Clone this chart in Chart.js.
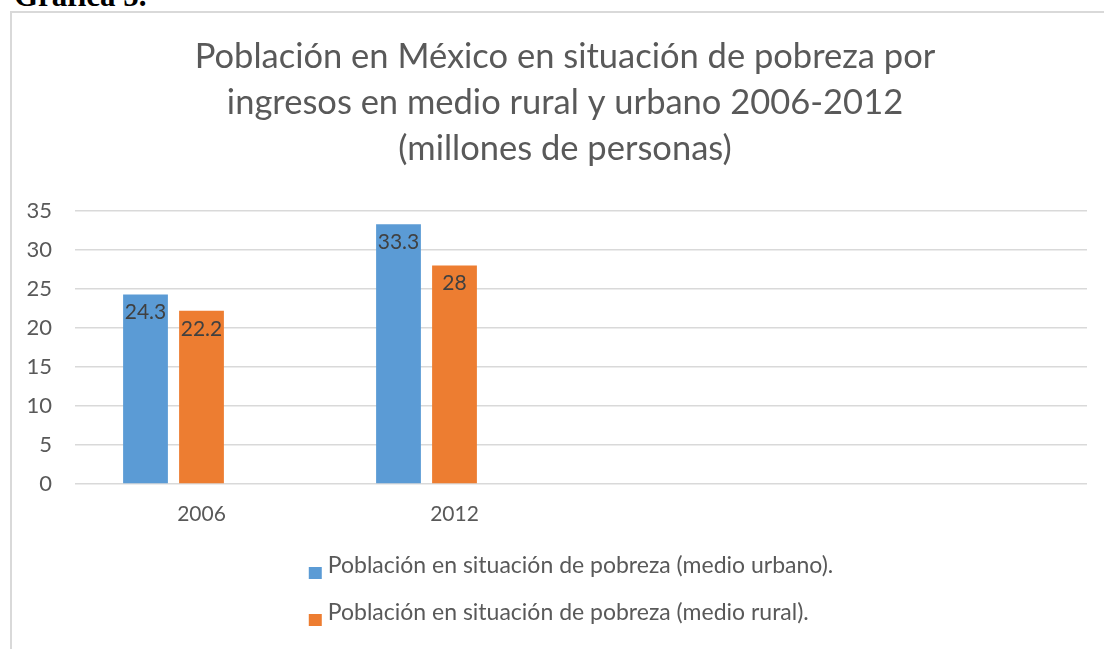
<!DOCTYPE html>
<html>
<head>
<meta charset="utf-8">
<script src="https://cdn.jsdelivr.net/npm/chart.js@4.4.1/dist/chart.umd.min.js"></script>
<style>
  html, body { margin: 0; padding: 0; background: #fff; overflow: hidden; width: 1104px; height: 649px; }
  #caption { position: absolute; left: 14px; top: -20px; font: bold 31px "Liberation Serif", serif; line-height: 31px; color: #000; white-space: nowrap; }
  #frame { position: absolute; left: 10px; top: 11px; width: 1200px; height: 700px; border-left: 2px solid #d9d9d9; border-top: 2px solid #d9d9d9; }
  #myChart { position: absolute; left: 12px; top: 13px; }
</style>
</head>
<body>
<div id="caption">Gráfica 5.</div>
<div id="frame"></div>
<canvas id="myChart" width="1106" height="636"></canvas>
<script>
const years = ['2006', '2012', '', '']
const urbano = [24.3, 33.3, null, null]
const rural = [22.2, 28, null, null]
const sinDatos = [null, null, null, null]   // third (empty) series in the original sheet
const yTicks = [0, 5, 10, 15, 20, 25, 30, 35]

const titleLines = [
	'Población en México en situación de pobreza por',
	'ingresos en medio rural y urbano 2006-2012',
	'(millones de personas)'
]
const seriesNames = [
	'Población en situación de pobreza (medio urbano).',
	'Población en situación de pobreza (medio rural).'
]

const grey = '#595959'
const FONT = 'Lato, "Open Sans", sans-serif'

// value written inside the top of each bar
const valueLabels = {
	id: 'valueLabels',
	afterDatasetsDraw(chart) {
		const ctx = chart.ctx
		ctx.save()
		ctx.font = '21px ' + FONT
		ctx.fillStyle = '#404040'
		ctx.textAlign = 'center'
		ctx.textBaseline = 'middle'
		chart.data.datasets.forEach((ds, i) => {
			chart.getDatasetMeta(i).data.forEach((bar, j) => {
				const v = ds.data[j]
				if (v == null) return
				ctx.fillText(String(v), bar.x, bar.y + 18)
			})
		})
		ctx.restore()
	}
}

// excel style legend: one entry per row, under the axis
const stackedLegend = {
	id: 'stackedLegend',
	afterDraw(chart) {
		const ctx = chart.ctx
		const items = chart.data.datasets.filter(ds => ds.label)
		ctx.save()
		ctx.font = '23px ' + FONT
		ctx.textBaseline = 'alphabetic'
		const textW = Math.max(...items.map(ds => ctx.measureText(ds.label).width))
		const blockW = 13 + 6 + textW
		const x0 = chart.width / 2 - blockW / 2 + 6
		items.forEach((ds, i) => {
			const base = chart.chartArea.bottom + 89 + i * 47
			ctx.fillStyle = ds.backgroundColor
			ctx.fillRect(x0, base - 6, 13, 12)
			ctx.fillStyle = grey
			ctx.fillText(ds.label, x0 + 19, base)
		})
		ctx.restore()
	}
}

const ctx = document.getElementById('myChart').getContext('2d')

const myChart = new Chart(ctx, {
	type: 'bar',
	data: {
		labels: years,
		datasets: [
			{ label: seriesNames[0], data: urbano, backgroundColor: '#5b9bd5' },
			{ label: seriesNames[1], data: rural, backgroundColor: '#ed7d31' },
			{ label: '', data: sinDatos, backgroundColor: '#a5a5a5' }
		]
	},
	options: {
		responsive: false,
		animation: false,
		barPercentage: 0.8,
		categoryPercentage: 0.664,
		layout: { padding: { left: 0, right: 0, top: 0, bottom: 120 } },
		plugins: {
			legend: { display: false },
			tooltip: { enabled: false },
			title: {
				display: true,
				text: titleLines,
				color: grey,
				font: { family: FONT, size: 34.5, weight: 'normal', lineHeight: 46 / 34.5 },
				padding: { top: 21, bottom: 39 }
			}
		},
		scales: {
			x: {
				grid: { display: false, drawTicks: false },
				border: { display: false },
				ticks: { color: grey, font: { family: FONT, size: 21 }, padding: 18 },
				afterFit: s => { s.height = 45 }
			},
			y: {
				min: 0,
				max: 35,
				afterBuildTicks: s => { s.ticks = yTicks.map(v => ({ value: v })) },
				grid: { color: '#d9d9d9', lineWidth: 1.5, drawTicks: false },
				border: { display: false },
				ticks: { color: grey, font: { family: FONT, size: 22 }, padding: 23 },
				afterFit: s => { s.width = 63 }
			},
			// blank right margin of the plot area
			yRight: {
				position: 'right',
				min: 0,
				max: 35,
				grid: { display: false, drawTicks: false },
				border: { display: false },
				ticks: { display: false },
				afterFit: s => { s.width = 31 }
			}
		}
	},
	plugins: [valueLabels, stackedLegend]
})
</script>
</body>
</html>
